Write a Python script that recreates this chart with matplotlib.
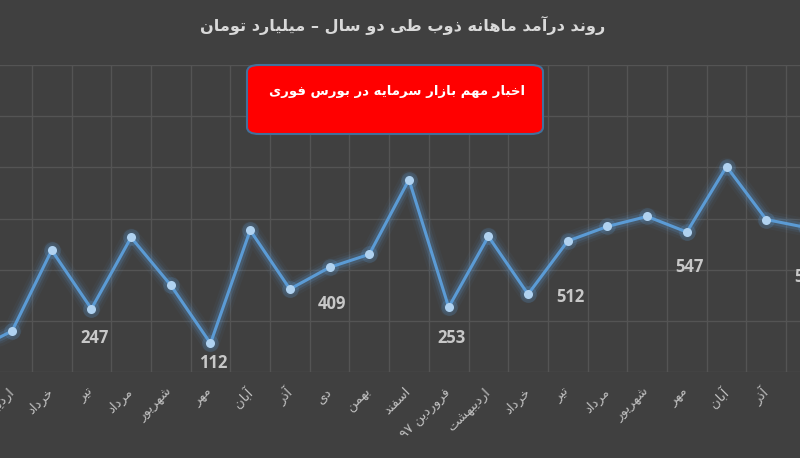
import re
import matplotlib
matplotlib.use("Agg")
import matplotlib.pyplot as plt
from matplotlib.patches import FancyBboxPatch

# data (values in billion toman)
months = ["فروردین", "اردیبهشت", "خرداد", "تیر", "مرداد", "شهریور", "مهر",
          "آبان", "آذر", "دی", "بهمن", "اسفند", "فروردین ۹۷", "اردیبهشت",
          "خرداد", "تیر", "مرداد", "شهریور", "مهر", "آبان", "آذر", "دی"]
income = [82, 160, 476, 247, 526, 339, 112, 554, 324, 409, 460, 752, 253,
          530, 304, 512, 569, 608, 547, 803, 596, 565]
label_idx = [3, 6, 9, 12, 15, 18, 21]
label_drop = [29, 20, 37, 31, 56, 35, 50]  # pixels below the point

title = "روند درآمد ماهانه ذوب طی دو سال – میلیارد تومان"
news = "اخبار مهم بازار سرمایه در بورس فوری"

# minimal Persian shaping: (isolated, final, initial, medial)
FORMS = {
    "ا": ("\uFE8D", "\uFE8E", None, None),
    "آ": ("\uFE81", "\uFE82", None, None),
    "ب": ("\uFE8F", "\uFE90", "\uFE91", "\uFE92"),
    "ت": ("\uFE95", "\uFE96", "\uFE97", "\uFE98"),
    "خ": ("\uFEA5", "\uFEA6", "\uFEA7", "\uFEA8"),
    "د": ("\uFEA9", "\uFEAA", None, None),
    "ذ": ("\uFEAB", "\uFEAC", None, None),
    "ر": ("\uFEAD", "\uFEAE", None, None),
    "ز": ("\uFEAF", "\uFEB0", None, None),
    "س": ("\uFEB1", "\uFEB2", "\uFEB3", "\uFEB4"),
    "ش": ("\uFEB5", "\uFEB6", "\uFEB7", "\uFEB8"),
    "ط": ("\uFEC1", "\uFEC2", "\uFEC3", "\uFEC4"),
    "ف": ("\uFED1", "\uFED2", "\uFED3", "\uFED4"),
    "ل": ("\uFEDD", "\uFEDE", "\uFEDF", "\uFEE0"),
    "م": ("\uFEE1", "\uFEE2", "\uFEE3", "\uFEE4"),
    "ن": ("\uFEE5", "\uFEE6", "\uFEE7", "\uFEE8"),
    "ه": ("\uFEE9", "\uFEEA", "\uFEEB", "\uFEEC"),
    "و": ("\uFEED", "\uFEEE", None, None),
    "ی": ("\uFBFC", "\uFBFD", "\uFBFE", "\uFBFF"),
}


def fa(text):
    out = []
    for i, c in enumerate(text):
        if c not in FORMS:
            out.append(c)
            continue
        prev = text[i - 1] if i > 0 else ""
        nxt = text[i + 1] if i + 1 < len(text) else ""
        p = prev in FORMS and FORMS[prev][2] is not None
        n = nxt in FORMS and FORMS[c][2] is not None
        iso, fin, ini, med = FORMS[c]
        out.append(med if p and n else fin if p else ini if n else iso)
    s = "".join(out)
    # visual order, keeping digit runs left to right
    tokens = re.findall(r"[0-9\u06F0-\u06F9]+|[^0-9\u06F0-\u06F9]+", s)
    return "".join(t if t[0].isdigit() else t[::-1] for t in tokens[::-1])


bg = "#404040"
line_c = "#5b9bd5"
fig = plt.figure(figsize=(8, 4.58), dpi=100, facecolor=bg)
ax = fig.add_axes([0, 86 / 458, 1, 307 / 458], facecolor=bg)

x = list(range(len(income)))
# glow
for lw, a in [(13, 0.05), (9, 0.10), (6, 0.18)]:
    ax.plot(x, income, color=line_c, lw=lw, alpha=a, solid_capstyle="round",
            solid_joinstyle="round", zorder=3)
ax.plot(x, income, color=line_c, lw=2.2, zorder=4, solid_joinstyle="round")
ax.plot(x, income, ls="none", marker="o", ms=12, color=line_c, alpha=0.2,
        mec="none", zorder=4)
ax.plot(x, income, ls="none", marker="o", ms=6.5, color="#b0d2f0", mec="none",
        zorder=5)

for i, d in zip(label_idx, label_drop):
    ax.annotate(str(income[i]), (i, income[i]), xytext=(2, -d * 0.72),
                textcoords="offset points", ha="center", va="center",
                fontsize=12, fontweight="bold", color="#c8c8c8",
                family="Open Sans", zorder=6, annotation_clip=False)

ax.set_yticks(range(0, 1201, 200))
ax.set_xticks([i + 0.5 for i in x], minor=True)
ax.set_xticks(x)
ax.set_xticklabels([fa(m) for m in months], rotation=45, ha="right",
                   va="center", rotation_mode="anchor", fontsize=9.5,
                   color="#c0c0c0", family="DejaVu Sans")
ax.set_xlim(0.698, 20.85)
ax.set_ylim(0, 1200)
ax.tick_params(axis="x", which="both", length=0, pad=13)
ax.tick_params(axis="y", length=0, labelleft=False)
ax.grid(axis="y", color="#545454", lw=1)
ax.grid(axis="x", which="minor", color="#545454", lw=1)
for sp in ax.spines.values():
    sp.set_visible(False)

fig.text(0.503, 1 - 25 / 458, fa(title), ha="center", va="center",
         fontsize=11.6, fontweight="bold", color="#d9d9d9", family="DejaVu Sans")

box = FancyBboxPatch((247 / 800, 1 - 134 / 458), 296 / 800, 69 / 458,
                     boxstyle="round,pad=0,rounding_size=0.015",
                     transform=fig.transFigure, facecolor="#ff0000",
                     edgecolor="#41719c", lw=1.5, zorder=10)
fig.patches.append(box)
fig.text(397 / 800, 1 - 91 / 458, fa(news), ha="center", va="center",
         fontsize=9.5, fontweight="bold", color="white", family="DejaVu Sans",
         zorder=11)

fig.savefig("out.png", dpi=100, facecolor=bg)
